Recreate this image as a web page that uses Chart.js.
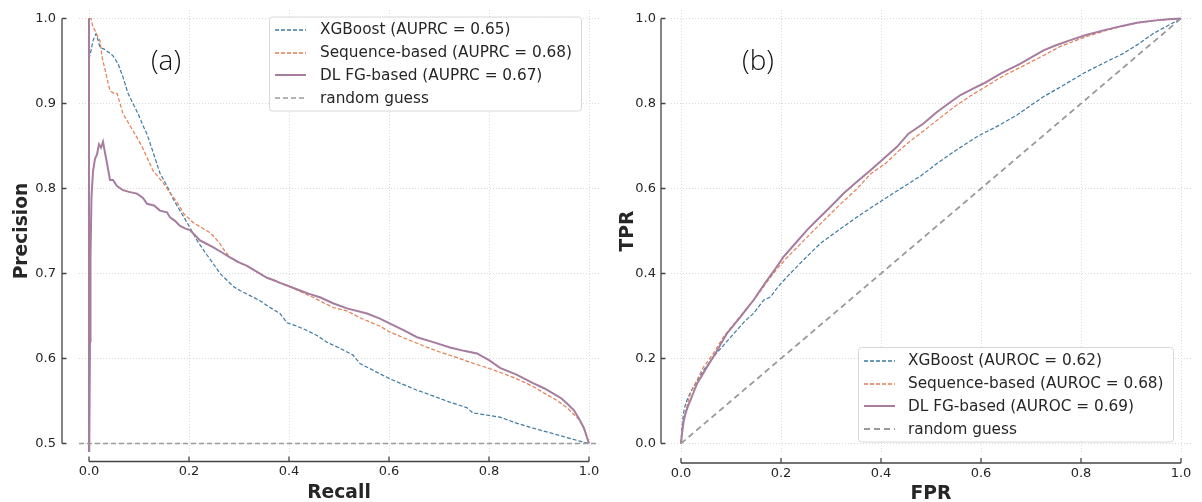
<!DOCTYPE html>
<html><head><meta charset="utf-8">
<script src="https://cdn.jsdelivr.net/npm/chart.js@4.4.0/dist/chart.umd.min.js"></script>
<style>
html,body{margin:0;padding:0;background:#fff;overflow:hidden;}
.wrap{position:absolute;left:0;top:0;width:1202px;height:502px;}
</style></head><body>
<div class="wrap"><canvas id="ca"></canvas></div>
<div class="wrap"><canvas id="cb"></canvas></div>
<script>
// ---------- data ----------
const unitTicks = [0, 0.2, 0.4, 0.6, 0.8, 1.0];
const precisionTicks = [0.5, 0.6, 0.7, 0.8, 0.9, 1.0];
const prLabels = ['XGBoost (AUPRC = 0.65)', 'Sequence-based (AUPRC = 0.68)', 'DL FG-based (AUPRC = 0.67)', 'random guess'];
const rocLabels = ['XGBoost (AUROC = 0.62)', 'Sequence-based (AUROC = 0.68)', 'DL FG-based (AUROC = 0.69)', 'random guess'];

// PR curves: [recall, precision]
const prXGB = [[0,1.0],[0.001,0.955],[0.004,0.962],[0.008,0.974],[0.014,0.982],[0.018,0.975],[0.022,0.966],[0.03,0.964],[0.04,0.96],[0.048,0.956],[0.058,0.947],[0.068,0.931],[0.078,0.912],[0.088,0.9],[0.098,0.888],[0.108,0.874],[0.116,0.864],[0.128,0.843],[0.142,0.818],[0.156,0.803],[0.168,0.788],[0.182,0.774],[0.196,0.76],[0.216,0.739],[0.232,0.725],[0.248,0.712],[0.262,0.7],[0.276,0.692],[0.29,0.684],[0.302,0.68],[0.322,0.674],[0.342,0.668],[0.362,0.66],[0.382,0.653],[0.396,0.642],[0.416,0.638],[0.436,0.633],[0.456,0.627],[0.476,0.619],[0.502,0.612],[0.528,0.604],[0.542,0.594],[0.572,0.585],[0.602,0.576],[0.622,0.571],[0.655,0.563],[0.688,0.556],[0.72,0.549],[0.756,0.542],[0.768,0.536],[0.8,0.533],[0.822,0.531],[0.855,0.524],[0.888,0.518],[0.92,0.513],[0.956,0.507],[0.98,0.503],[1.0,0.5]];
const prSeq = [[0,1.0],[0.004,1.0],[0.008,0.99],[0.012,0.986],[0.018,0.978],[0.022,0.974],[0.026,0.955],[0.03,0.945],[0.036,0.93],[0.042,0.915],[0.05,0.912],[0.056,0.912],[0.062,0.9],[0.068,0.888],[0.078,0.878],[0.088,0.868],[0.098,0.858],[0.108,0.847],[0.118,0.834],[0.128,0.821],[0.138,0.814],[0.148,0.807],[0.162,0.795],[0.176,0.784],[0.19,0.77],[0.208,0.76],[0.225,0.754],[0.242,0.748],[0.252,0.742],[0.262,0.735],[0.272,0.726],[0.282,0.719],[0.298,0.713],[0.316,0.709],[0.336,0.702],[0.356,0.695],[0.376,0.69],[0.396,0.686],[0.422,0.679],[0.448,0.672],[0.488,0.66],[0.516,0.656],[0.542,0.648],[0.582,0.638],[0.602,0.631],[0.635,0.623],[0.668,0.615],[0.7,0.608],[0.736,0.601],[0.77,0.594],[0.802,0.588],[0.83,0.582],[0.856,0.576],[0.885,0.568],[0.908,0.56],[0.935,0.551],[0.956,0.542],[0.972,0.533],[0.982,0.527],[0.992,0.515],[0.998,0.504],[1.0,0.5]];
const prDL = [[0,1.0],[0,0.45],[0.002,0.62],[0.003,0.72],[0.005,0.79],[0.008,0.82],[0.012,0.835],[0.016,0.84],[0.02,0.852],[0.024,0.848],[0.028,0.855],[0.032,0.842],[0.036,0.83],[0.042,0.81],[0.048,0.81],[0.056,0.803],[0.068,0.798],[0.08,0.796],[0.096,0.794],[0.108,0.789],[0.116,0.782],[0.13,0.78],[0.142,0.774],[0.156,0.772],[0.162,0.766],[0.172,0.762],[0.182,0.756],[0.192,0.753],[0.202,0.751],[0.212,0.745],[0.222,0.739],[0.235,0.735],[0.248,0.731],[0.265,0.725],[0.282,0.719],[0.3,0.713],[0.316,0.709],[0.336,0.702],[0.356,0.695],[0.37,0.692],[0.382,0.689],[0.4,0.685],[0.422,0.68],[0.44,0.676],[0.462,0.672],[0.488,0.665],[0.516,0.659],[0.556,0.653],[0.582,0.647],[0.602,0.641],[0.63,0.633],[0.656,0.625],[0.69,0.619],[0.722,0.613],[0.75,0.609],[0.776,0.606],[0.8,0.598],[0.822,0.589],[0.855,0.581],[0.888,0.571],[0.91,0.565],[0.928,0.559],[0.945,0.553],[0.956,0.547],[0.97,0.539],[0.982,0.527],[0.99,0.518],[0.996,0.507],[1.0,0.5]];
const prRandom = [[-0.02,0.5],[1.02,0.5]];

// ROC curves: [FPR, TPR]
const rocXGB = [[0,0],[0.001,0.02],[0.002,0.039],[0.005,0.071],[0.008,0.088],[0.012,0.102],[0.018,0.118],[0.025,0.133],[0.035,0.153],[0.045,0.172],[0.055,0.188],[0.065,0.204],[0.085,0.231],[0.112,0.267],[0.128,0.288],[0.145,0.306],[0.165,0.337],[0.179,0.345],[0.195,0.37],[0.212,0.392],[0.245,0.432],[0.279,0.471],[0.315,0.502],[0.352,0.533],[0.4,0.57],[0.445,0.604],[0.48,0.63],[0.512,0.659],[0.55,0.69],[0.592,0.722],[0.635,0.748],[0.672,0.773],[0.7,0.796],[0.725,0.816],[0.765,0.843],[0.805,0.871],[0.845,0.895],[0.885,0.918],[0.915,0.94],[0.945,0.965],[0.975,0.984],[1,1]];
const rocSeq = [[0,0],[0.002,0.031],[0.005,0.055],[0.009,0.071],[0.014,0.098],[0.019,0.118],[0.025,0.133],[0.032,0.149],[0.045,0.18],[0.065,0.212],[0.085,0.251],[0.112,0.29],[0.139,0.329],[0.155,0.352],[0.172,0.38],[0.19,0.408],[0.21,0.435],[0.235,0.465],[0.26,0.495],[0.29,0.53],[0.325,0.57],[0.35,0.597],[0.379,0.634],[0.41,0.66],[0.435,0.688],[0.459,0.712],[0.49,0.74],[0.52,0.768],[0.55,0.795],[0.579,0.818],[0.61,0.84],[0.64,0.862],[0.68,0.886],[0.725,0.913],[0.76,0.935],[0.805,0.955],[0.845,0.97],[0.88,0.981],[0.912,0.99],[0.945,0.995],[0.975,0.998],[1,1]];
const rocDL = [[0,0],[0.002,0.024],[0.005,0.05],[0.009,0.071],[0.014,0.088],[0.019,0.102],[0.025,0.12],[0.032,0.141],[0.042,0.16],[0.052,0.18],[0.069,0.212],[0.08,0.235],[0.092,0.259],[0.105,0.278],[0.119,0.298],[0.132,0.318],[0.145,0.337],[0.158,0.36],[0.172,0.384],[0.188,0.41],[0.205,0.439],[0.228,0.47],[0.252,0.502],[0.272,0.526],[0.292,0.549],[0.31,0.57],[0.325,0.588],[0.35,0.614],[0.379,0.643],[0.405,0.67],[0.432,0.698],[0.455,0.729],[0.485,0.753],[0.512,0.78],[0.535,0.8],[0.559,0.82],[0.582,0.834],[0.605,0.847],[0.64,0.871],[0.679,0.894],[0.725,0.925],[0.75,0.937],[0.779,0.949],[0.81,0.961],[0.845,0.972],[0.88,0.982],[0.912,0.99],[0.945,0.995],[0.975,0.998],[1,1]];
const rocRandom = [[0,0],[1,1]];

// ---------- styling ----------
const COL = {blue:'#3d7aa2', orange:'#e57c52', purple:'#a67c9f', gray:'#9a9a9a', text:'#262626', grid:'#d6d6d6', spine:'#444444'};
Chart.defaults.font.family = '"DejaVu Sans", sans-serif';
const toXY = arr => arr.map(([x, y]) => ({x, y}));

function datasets(labels, s1, s2, s3, s4, randWidth, randDash) {
  return [
    {label: labels[0], data: toXY(s1), borderColor: COL.blue, borderWidth: 1.2, borderDash: [4, 2], order: 4},
    {label: labels[1], data: toXY(s2), borderColor: COL.orange, borderWidth: 1.2, borderDash: [4, 2], order: 3},
    {label: labels[2], data: toXY(s3), borderColor: COL.purple, borderWidth: 2, borderDash: [], order: 2},
    {label: labels[3], data: toXY(s4), borderColor: COL.gray, borderWidth: randWidth, borderDash: randDash, order: 1}
  ];
}

function decor(cfg) {
  return {
    id: 'decor',
    afterDraw(chart) {
      const {ctx} = chart, xs = chart.scales.x, ys = chart.scales.y;
      ctx.save();
      // offset spines with inward ticks
      const px = cfg.xTicks.map(v => xs.getPixelForValue(v));
      const py = cfg.yTicks.map(v => ys.getPixelForValue(v));
      ctx.strokeStyle = COL.spine; ctx.lineWidth = 1.3; ctx.setLineDash([]);
      ctx.beginPath();
      ctx.moveTo(cfg.ySpineX, Math.min(...py)); ctx.lineTo(cfg.ySpineX, Math.max(...py));
      py.forEach(p => { ctx.moveTo(cfg.ySpineX, p); ctx.lineTo(cfg.ySpineX + 4.5, p); });
      ctx.moveTo(Math.min(...px), cfg.xSpineY); ctx.lineTo(Math.max(...px), cfg.xSpineY);
      px.forEach(p => { ctx.moveTo(p, cfg.xSpineY); ctx.lineTo(p, cfg.xSpineY - 5); });
      ctx.stroke();
      // panel label
      ctx.fillStyle = '#111';
      ctx.font = '300 28px "Open Sans", "Noto Sans", sans-serif';
      ctx.textAlign = 'center'; ctx.textBaseline = 'middle';
      ctx.fillText(cfg.panel, cfg.panelX, cfg.panelY);
      // legend
      const L = cfg.legend;
      ctx.beginPath();
      ctx.roundRect(L.x, L.y, L.w, L.h, 3);
      ctx.fillStyle = 'rgba(255,255,255,0.85)'; ctx.fill();
      ctx.strokeStyle = '#d8d8d8'; ctx.lineWidth = 1; ctx.stroke();
      ctx.font = '15.3px "DejaVu Sans", sans-serif';
      ctx.textAlign = 'left'; ctx.textBaseline = 'middle';
      chart.data.datasets.forEach((ds, i) => {
        const yy = L.row0 + i * L.step;
        const ly = Math.round(yy);
        ctx.strokeStyle = ds.borderColor; ctx.lineWidth = Math.max(ds.borderWidth, 1.6);
        ctx.setLineDash(ds.borderDash || []);
        ctx.beginPath(); ctx.moveTo(L.lx0, ly); ctx.lineTo(L.lx1, ly); ctx.stroke();
        ctx.setLineDash([]);
        ctx.fillStyle = COL.text;
        ctx.fillText(ds.label, L.tx, yy + 0.5);
      });
      ctx.restore();
    }
  };
}

function axisOpts(min, max, ticks, fitKey, fitVal, gap, title, titlePad) {
  return {
    type: 'linear', min, max,
    afterBuildTicks: s => { s.ticks = ticks.map(v => ({value: v})); },
    afterFit: s => {
      s[fitKey] = fitVal;
      s.paddingTop = 0; s.paddingBottom = 0; s.paddingLeft = 0; s.paddingRight = 0;
    },
    grid: {color: COL.grid, lineWidth: 0.9, drawTicks: true, tickLength: gap, tickColor: 'rgba(0,0,0,0)'},
    border: {display: false, dash: [1, 2]},
    ticks: {padding: 0, color: COL.text, font: {size: 13}, autoSkip: false, maxRotation: 0,
            callback: v => Number(v).toFixed(1)},
    title: {display: true, text: title, color: COL.text, padding: titlePad,
            font: {size: 18.7, weight: 'bold', lineHeight: 1}}
  };
}

function baseOptions(padding, scales) {
  return {
    responsive: true, maintainAspectRatio: false, animation: false,
    layout: {padding},
    elements: {point: {radius: 0, hoverRadius: 0}, line: {tension: 0, fill: false}},
    plugins: {legend: {display: false}, tooltip: {enabled: false}},
    events: [],
    scales
  };
}

// ---------- (a) precision-recall ----------
new Chart(document.getElementById('ca'), {
  type: 'line',
  data: {datasets: datasets(prLabels, prXGB, prSeq, prDL, prRandom, 1.3, [5, 3])},
  options: baseOptions({left: 0, right: 603, top: 10, bottom: 0}, {
    x: axisOpts(-0.02, 1.02, unitTicks, 'height', 50, 12, 'Recall', {top: 0, bottom: 0}),
    y: axisOpts(0.49, 1.01, precisionTicks, 'width', 79, 23, 'Precision', {top: 13, bottom: 0})
  }),
  plugins: [decor({xTicks: unitTicks, yTicks: precisionTicks, ySpineX: 62, xSpineY: 461.5,
    panel: '(a)', panelX: 166, panelY: 62,
    legend: {x: 269.5, y: 17, w: 312, h: 94, row0: 30, step: 22.7, lx0: 275, lx1: 306, tx: 320}})]
});

// ---------- (b) ROC ----------
new Chart(document.getElementById('cb'), {
  type: 'line',
  data: {datasets: datasets(rocLabels, rocXGB, rocSeq, rocDL, rocRandom, 1.8, [6, 4])},
  options: baseOptions({left: 600, right: 11, top: 10, bottom: 0}, {
    x: axisOpts(-0.02, 1.02, unitTicks, 'height', 50, 14, 'FPR', {top: 0, bottom: -1}),
    y: axisOpts(-0.02, 1.02, unitTicks, 'width', 71, 15, 'TPR', {top: 19, bottom: 0})
  }),
  plugins: [decor({xTicks: unitTicks, yTicks: unitTicks, ySpineX: 661, xSpineY: 463,
    panel: '(b)', panelX: 758, panelY: 62,
    legend: {x: 858.5, y: 347.5, w: 315, h: 94.5, row0: 360.7, step: 22.8, lx0: 864, lx1: 895, tx: 908}})]
});
</script>
</body></html>
